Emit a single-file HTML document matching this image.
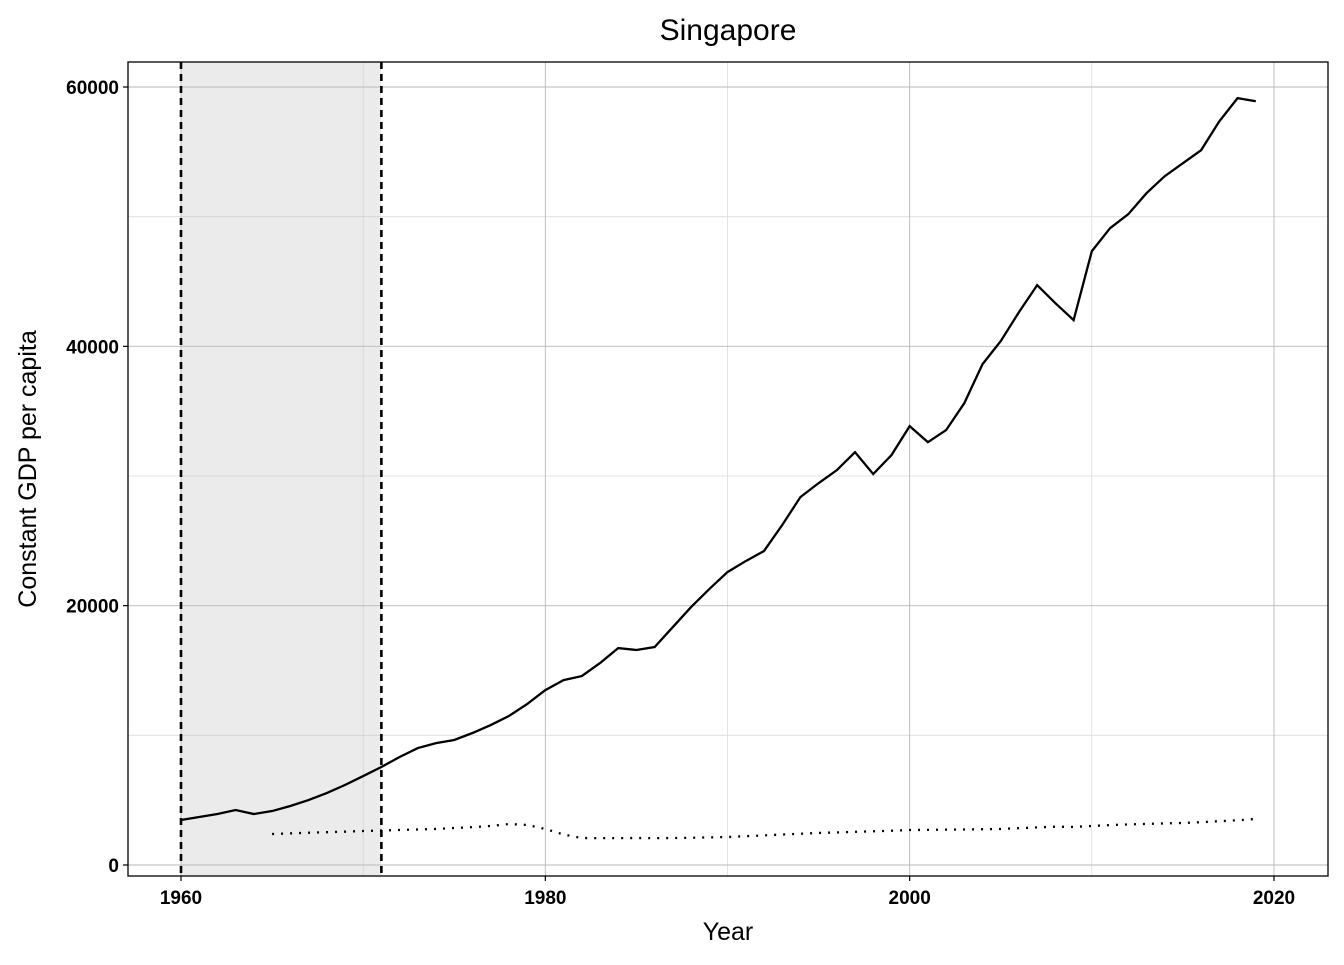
<!DOCTYPE html>
<html><head><meta charset="utf-8"><style>
body{margin:0;background:#fff;}
svg text{font-family:"Liberation Sans",Arial,sans-serif;}
</style></head><body>
<svg id="chart" width="1344" height="960" xmlns="http://www.w3.org/2000/svg"></svg>
<script>
const years = [];
for (let y = 1960; y <= 2019; y++) years.push(y);
const gdp = [3470,3700,3930,4240,3930,4160,4550,5010,5550,6170,6860,7560,8330,9020,9400,9640,10180,10790,11490,12410,13490,14260,14570,15570,16730,16580,16810,18350,19890,21280,22590,23440,24210,26210,28370,29450,30450,31840,30150,31610,33850,32610,33540,35620,38630,40400,42640,44720,43330,42020,47340,49110,50190,51810,53120,54120,55130,57360,59140,58900];
const refYears = [1965,1966,1967,1968,1969,1970,1971,1972,1973,1974,1975,1976,1977,1978,1979,1980,1981,1982,1983,1984,1985,1986,1987,1988,1989,1990,1991,1992,1993,1994,1995,1996,1997,1998,1999,2000,2001,2002,2003,2004,2005,2006,2007,2008,2009,2010,2011,2012,2013,2014,2015,2016,2017,2018,2019];
const refGdp = [2390,2440,2490,2530,2570,2620,2660,2700,2740,2780,2850,2920,3010,3160,3090,2780,2350,2080,2070,2070,2080,2070,2080,2100,2130,2160,2220,2280,2350,2410,2470,2510,2560,2600,2640,2700,2710,2730,2740,2760,2780,2840,2900,2950,2940,3010,3080,3130,3170,3210,3240,3300,3380,3450,3550];
const shadeRange = [1960, 1971];
const xTicks = [1960,1980,2000,2020];
const yTicks = [0,20000,40000,60000];
const xMinor = [1970,1990,2010];
const yMinor = [10000,30000,50000];

const L=128,R=1328,T=62,B=876;
const X = v => 181 + (v-1960)*(1274-181)/60;
const Y = v => 865 - v*(865-87)/60000;
const svg = document.getElementById('chart');
const NS='http://www.w3.org/2000/svg';
function el(tag, attrs, parent){const e=document.createElementNS(NS,tag);for(const k in attrs)e.setAttribute(k,attrs[k]);(parent||svg).appendChild(e);return e;}

const bg = el('rect',{x:L,y:T,width:R-L,height:B-T,fill:'#fff'});


xMinor.forEach(v=>{const g=el('line',{x1:X(v),x2:X(v),y1:T,y2:B,stroke:'#dcdcdc','stroke-width':0.8});});
yMinor.forEach(v=>{const g=el('line',{x1:L,x2:R,y1:Y(v),y2:Y(v),stroke:'#dcdcdc','stroke-width':0.8});});
xTicks.forEach(v=>{const g=el('line',{x1:X(v),x2:X(v),y1:T,y2:B,stroke:'#b8b8b8','stroke-width':0.9});});
yTicks.forEach(v=>{const g=el('line',{x1:L,x2:R,y1:Y(v),y2:Y(v),stroke:'#b8b8b8','stroke-width':0.9});});

const sh = el('rect',{x:X(shadeRange[0]),y:T,width:X(shadeRange[1])-X(shadeRange[0]),height:B-T,fill:'#bdbdbd','fill-opacity':0.3});


shadeRange.forEach(v=>{const d=el('line',{x1:X(v),x2:X(v),y1:T,y2:B,stroke:'#000','stroke-width':2.6,'stroke-dasharray':'7,5'});});

const p1 = el('polyline',{points:years.map((y,i)=>X(y)+','+Y(gdp[i])).join(' '),fill:'none',stroke:'#000','stroke-width':2.3});


const p2 = el('polyline',{points:refYears.map((y,i)=>X(y)+','+Y(refGdp[i])).join(' '),fill:'none',stroke:'#000','stroke-width':2.3,'stroke-dasharray':'2,7'});



const frame = el('rect',{x:L,y:T,width:R-L,height:B-T,fill:'none',stroke:'#000','stroke-width':1.3});



xTicks.forEach(v=>{
  el('line',{x1:X(v),x2:X(v),y1:B,y2:B+5,stroke:'#000','stroke-width':1.2});
  const t=el('text',{x:X(v),y:B+28,'text-anchor':'middle','font-size':19,'font-weight':'bold'});t.textContent=v;
  
  
});
yTicks.forEach(v=>{
  el('line',{x1:L-5,x2:L,y1:Y(v),y2:Y(v),stroke:'#000','stroke-width':1.2});
  const t=el('text',{x:L-9,y:Y(v)+7,'text-anchor':'end','font-size':19,'font-weight':'bold'});t.textContent=v;
  
  
});
const title=el('text',{x:728,y:40,'text-anchor':'middle','font-size':30});title.textContent='Singapore';


const xt=el('text',{x:728,y:940,'text-anchor':'middle','font-size':25});xt.textContent='Year';


const yt=el('text',{x:0,y:0,'text-anchor':'middle','font-size':25,transform:'translate(36,469) rotate(-90)'});yt.textContent='Constant GDP per capita';


</script>
</body></html>
